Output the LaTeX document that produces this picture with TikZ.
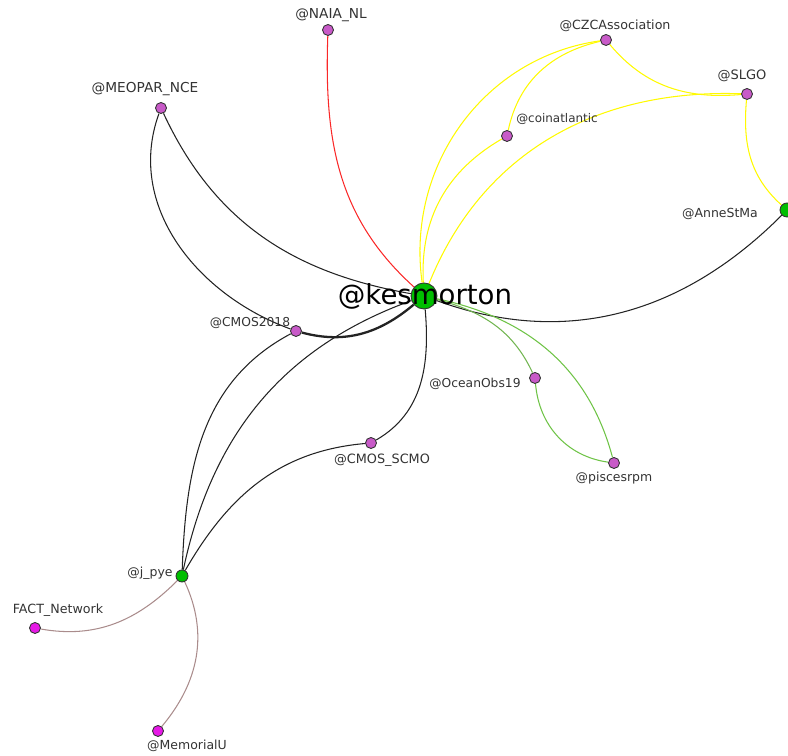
\documentclass[tikz,border=0pt]{standalone}
\usepackage{fontspec}
\setmainfont{DejaVu Sans}
\usetikzlibrary{backgrounds}
\definecolor{orchidnode}{RGB}{200,90,200}
\definecolor{magnode}{RGB}{230,25,230}
\definecolor{hubgreen}{RGB}{0,190,0}
\definecolor{edgeink}{RGB}{35,35,35}
\definecolor{edgered}{RGB}{250,40,40}
\definecolor{edgeyellow}{RGB}{255,250,0}
\definecolor{edgegreen}{RGB}{110,195,70}
\definecolor{edgetaupe}{RGB}{170,140,140}
\tikzset{
  acct/.style={circle,draw=black!80,fill=#1,line width=0.5pt,inner sep=0pt,minimum size=2.2mm},
  acct/.default=orchidnode,
  hub/.style={acct=hubgreen,minimum size=#1},
  tag/.style={font=\fontsize{#1}{8}\selectfont,text=black!80,inner sep=1pt},
  tag/.default=7.1,
  bigtag/.style={font=\fontsize{15.7}{17}\selectfont,text=black,inner sep=0pt},
  tie/.style={draw=#1,line width=0.6pt},
  tie/.default=edgeink,
}

\begin{document}
\begin{tikzpicture}[x=0.02cm,y=0.02cm]
  \useasboundingbox (0,0) rectangle (788,756);
  % accounts
  \node[hub=5.2mm] (kes) at (424,460) {};
  \node[acct] (naia) at (328,726) {};
  \node[acct] (meopar) at (161,648) {};
  \node[acct] (czc) at (606,716) {};
  \node[acct] (slgo) at (747,662) {};
  \node[acct] (coin) at (507,620) {};
  \node[hub=2.8mm] (anne) at (787,546) {};
  \node[acct] (cmos18) at (296,425) {};
  \node[acct] (ocean) at (535,378) {};
  \node[acct] (scmo) at (371,313) {};
  \node[acct] (pisces) at (614,293) {};
  \node[hub=2.4mm] (jpye) at (182,180) {};
  \node[acct=magnode] (fact) at (35,128) {};
  \node[acct=magnode] (memu) at (158,25) {};
  % handles
  \node[bigtag] (kes-t) at (425,460) {@kesmorton};
  \node[tag=7.8] (naia-t) at (331,741) {@NAIA\_NL};
  \node[tag=7.8] (meopar-t) at (145,667) {@MEOPAR\_NCE};
  \node[tag=7.2] (czc-t) at (615,730) {@CZCAssociation};
  \node[tag=7.4] (slgo-t) at (742,680) {@SLGO};
  \node[tag=6.8] (coin-t) at (557,637) {@coinatlantic};
  \node[tag] (anne-t) at (720,542) {@AnneStMa};
  \node[tag=7] (cmos18-t) at (250,433) {@CMOS2018};
  \node[tag=7] (ocean-t) at (475,372) {@OceanObs19};
  \node[tag=7.3] (scmo-t) at (382,296) {@CMOS\_SCMO};
  \node[tag] (pisces-t) at (614,278) {@piscesrpm};
  \node[tag] (jpye-t) at (150,183) {@j\_pye};
  \node[tag=7.2] (fact-t) at (58,146) {FACT\_Network};
  \node[tag] (memu-t) at (187,10) {@MemorialU};
  % mentions
  \begin{scope}[on background layer]
    \draw[tie=edgered] (kes) to[out=138,in=268] (naia);
    \draw[tie] (kes) to[out=170,in=295] (meopar);
    \draw[tie] (meopar) to[out=250,in=160] (cmos18);
    \draw[tie,line width=1.3pt] (cmos18) to[out=-15,in=220] (kes);
    \draw[tie] (jpye) to[out=88,in=208] (cmos18);
    \draw[tie] (jpye) to[out=78,in=200] (kes);
    \draw[tie] (jpye) to[out=60,in=185] (scmo);
    \draw[tie] (kes) to[out=-85,in=30] (scmo);
    \draw[tie] (kes) to[out=-20,in=225] (anne);
    \draw[tie=edgeyellow] (kes) to[out=98,in=188] (czc);
    \draw[tie=edgeyellow] (kes) to[out=93,in=210] (coin);
    \draw[tie=edgeyellow] (coin) to[out=78,in=193] (czc);
    \draw[tie=edgeyellow] (kes) to[out=68,in=178] (slgo);
    \draw[tie=edgeyellow] (czc) to[out=-50,in=185] (slgo);
    \draw[tie=edgeyellow] (slgo) to[out=265,in=138] (anne);
    \draw[tie=edgegreen!80!gray] (kes) to[out=-15,in=115] (ocean);
    \draw[tie=edgegreen] (kes) to[out=-12,in=105] (pisces);
    \draw[tie=edgegreen] (ocean) to[out=275,in=172] (pisces);
    \draw[tie=edgetaupe] (jpye) to[out=225,in=-10] (fact);
    \draw[tie=edgetaupe] (jpye) to[out=-65,in=50] (memu);
  \end{scope}
\end{tikzpicture}
\end{document}
